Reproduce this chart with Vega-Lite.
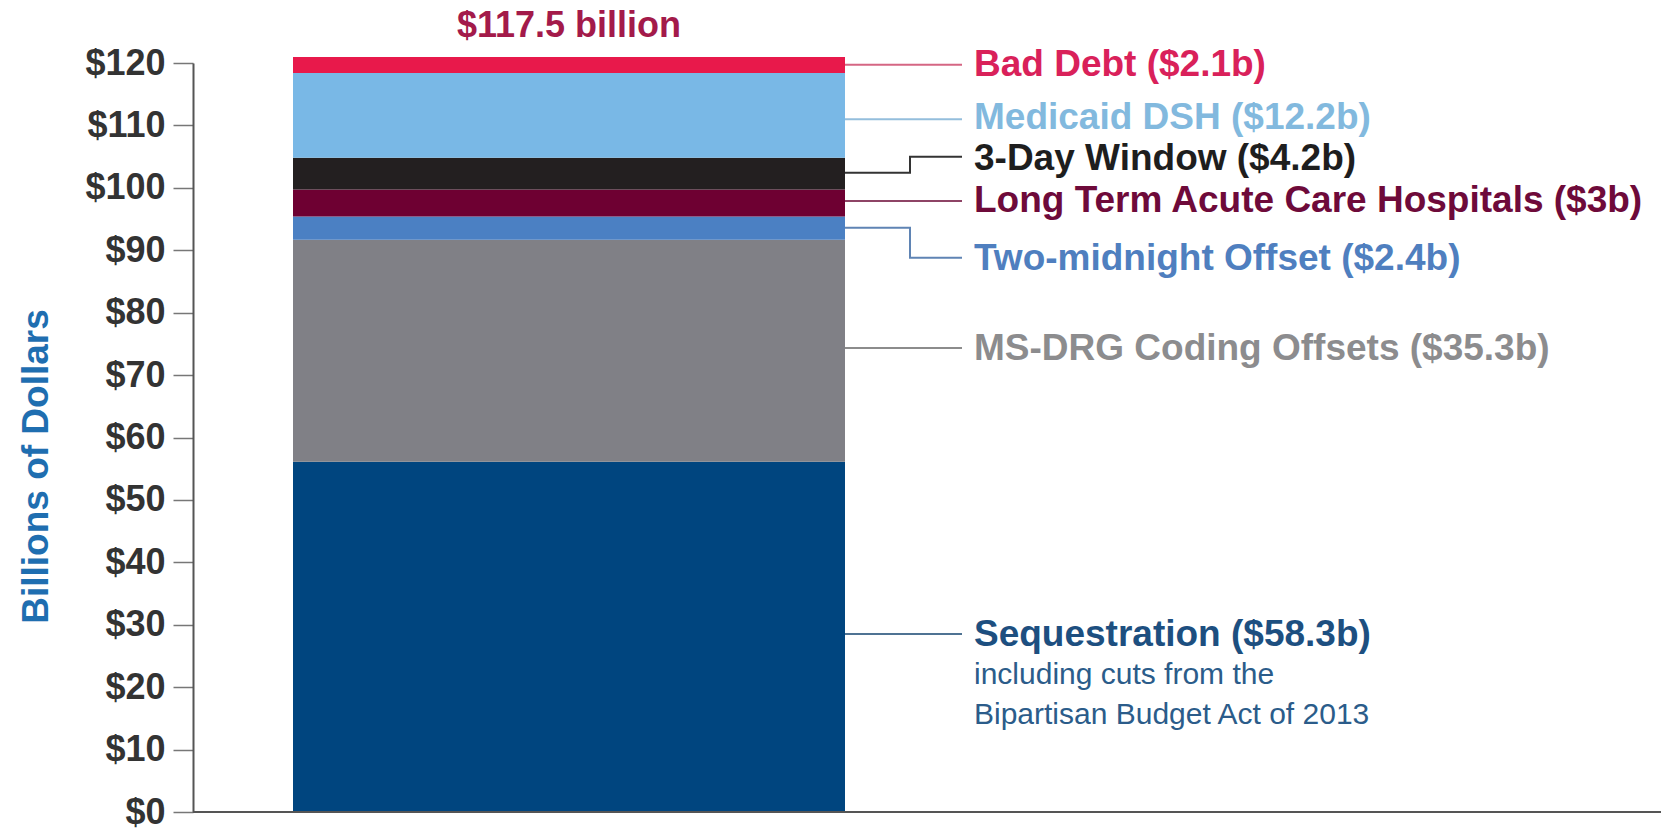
{
  "$schema": "https://vega.github.io/schema/vega-lite/v6.json",
  "autosize": "none",
  "width": 1468,
  "height": 749,
  "padding": {"left": 193, "top": 63, "right": 0, "bottom": 17},
  "background": "white",
  "config": {
    "view": {"stroke": null},
    "axisY": {
      "grid": false,
      "tickSize": 20,
      "tickColor": "#777777",
      "tickWidth": 1.5,
      "domainColor": "#555555",
      "domainWidth": 2,
      "labelFont": "Liberation Sans",
      "labelFontSize": 36,
      "labelFontWeight": "bold",
      "labelColor": "#333333",
      "labelPadding": 8,
      "titleFont": "Liberation Sans",
      "titleFontSize": 37,
      "titleFontWeight": "bold",
      "titleColor": "#1f6eb0",
      "titleAngle": -90,
      "titleX": -157,
      "titleY": 403,
      "titleAlign": "center",
      "titleBaseline": "middle"
    }
  },
  "resolve": {"scale": {"color": "independent"}},
  "layer": [
    {
      "data": {"values": [
        {"category": "Sequestration", "value": 56.1, "order": 1},
        {"category": "MS-DRG Coding Offsets", "value": 35.6, "order": 2},
        {"category": "Two-midnight Offset", "value": 3.7, "order": 3},
        {"category": "Long Term Acute Care Hospitals", "value": 4.35, "order": 4},
        {"category": "3-Day Window", "value": 5.05, "order": 5},
        {"category": "Medicaid DSH", "value": 13.6, "order": 6},
        {"category": "Bad Debt", "value": 2.55, "order": 7}
      ]},
      "transform": [
        {"stack": "value", "groupby": [], "sort": [{"field": "order", "order": "ascending"}], "as": ["lo", "hi"]}
      ],
      "mark": {"type": "bar"},
      "encoding": {
        "x": {"datum": 0, "type": "quantitative", "scale": {"domain": [-1, 0, 1, 2, 3, 4, 5], "range": [0, 100, 652, 717, 769, 781, 1468]}, "axis": null},
        "x2": {"datum": 1},
        "y": {
          "field": "lo", "type": "quantitative",
          "scale": {"domain": [0, 120], "nice": false},
          "title": "Billions of Dollars",
          "axis": {
            "values": [0, 10, 20, 30, 40, 50, 60, 70, 80, 90, 100, 110, 120],
            "labelExpr": "'$' + datum.value"
          }
        },
        "y2": {"field": "hi"},
        "color": {
          "field": "category", "type": "nominal", "legend": null,
          "scale": {
            "domain": ["Sequestration", "MS-DRG Coding Offsets", "Two-midnight Offset", "Long Term Acute Care Hospitals", "3-Day Window", "Medicaid DSH", "Bad Debt"],
            "range": ["#00457f", "#808086", "#4b80c3", "#6e0032", "#231f20", "#79b8e6", "#e8194b"]
          }
        }
      }
    },
    {
      "data": {"values": [{"base": 0}]},
      "mark": {"type": "rule", "color": "#555555", "strokeWidth": 2},
      "encoding": {
        "x": {"datum": -1, "type": "quantitative"},
        "x2": {"datum": 5},
        "y": {"field": "base", "type": "quantitative", "title": "Billions of Dollars"}
      }
    },
    {
      "data": {"values": [
        {"category": "Bad Debt", "leg": 1, "value": 119.7},
        {"category": "Bad Debt", "leg": 3, "value": 119.7},
        {"category": "Medicaid DSH", "leg": 1, "value": 111.0},
        {"category": "Medicaid DSH", "leg": 3, "value": 111.0},
        {"category": "3-Day Window", "leg": 1, "value": 102.4},
        {"category": "3-Day Window", "leg": 2, "value": 102.4},
        {"category": "3-Day Window", "leg": 2, "value": 105.0},
        {"category": "3-Day Window", "leg": 3, "value": 105.0},
        {"category": "Long Term Acute Care Hospitals", "leg": 1, "value": 97.9},
        {"category": "Long Term Acute Care Hospitals", "leg": 3, "value": 97.9},
        {"category": "Two-midnight Offset", "leg": 1, "value": 93.6},
        {"category": "Two-midnight Offset", "leg": 2, "value": 93.6},
        {"category": "Two-midnight Offset", "leg": 2, "value": 88.8},
        {"category": "Two-midnight Offset", "leg": 3, "value": 88.8},
        {"category": "MS-DRG Coding Offsets", "leg": 1, "value": 74.35},
        {"category": "MS-DRG Coding Offsets", "leg": 3, "value": 74.35},
        {"category": "Sequestration", "leg": 1, "value": 28.5},
        {"category": "Sequestration", "leg": 3, "value": 28.5}
      ]},
      "transform": [{"window": [{"op": "row_number", "as": "seq"}]}],
      "mark": {"type": "line", "strokeWidth": 2},
      "encoding": {
        "x": {"field": "leg", "type": "quantitative"},
        "y": {"field": "value", "type": "quantitative", "title": "Billions of Dollars"},
        "order": {"field": "seq", "type": "quantitative"},
        "color": {
          "field": "category", "type": "nominal", "legend": null,
          "scale": {
            "domain": ["Sequestration", "MS-DRG Coding Offsets", "Two-midnight Offset", "Long Term Acute Care Hospitals", "3-Day Window", "Medicaid DSH", "Bad Debt"],
            "range": ["#4f7393", "#8c8c8c", "#5f84b4", "#8e4466", "#333333", "#94bedc", "#d56683"]
          }
        }
      }
    },
    {
      "data": {"values": [
        {"category": "Bad Debt", "label": "Bad Debt ($2.1b)", "value": 119.7},
        {"category": "Medicaid DSH", "label": "Medicaid DSH ($12.2b)", "value": 111.2},
        {"category": "3-Day Window", "label": "3-Day Window ($4.2b)", "value": 104.6},
        {"category": "Long Term Acute Care Hospitals", "label": "Long Term Acute Care Hospitals ($3b)", "value": 97.9},
        {"category": "Two-midnight Offset", "label": "Two-midnight Offset ($2.4b)", "value": 88.6},
        {"category": "MS-DRG Coding Offsets", "label": "MS-DRG Coding Offsets ($35.3b)", "value": 74.2},
        {"category": "Sequestration", "label": "Sequestration ($58.3b)", "value": 28.3}
      ]},
      "mark": {"type": "text", "align": "left", "baseline": "middle", "font": "Liberation Sans", "fontSize": 37, "fontWeight": "bold"},
      "encoding": {
        "x": {"datum": 4, "type": "quantitative"},
        "y": {"field": "value", "type": "quantitative", "title": "Billions of Dollars"},
        "text": {"field": "label"},
        "color": {
          "field": "category", "type": "nominal", "legend": null,
          "scale": {
            "domain": ["Sequestration", "MS-DRG Coding Offsets", "Two-midnight Offset", "Long Term Acute Care Hospitals", "3-Day Window", "Medicaid DSH", "Bad Debt"],
            "range": ["#1d4f80", "#8c8c8e", "#4f7fbf", "#6e0a3a", "#1e1e1e", "#82b9de", "#d9215a"]
          }
        }
      }
    },
    {
      "data": {"values": [
        {"label": "including cuts from the", "value": 21.95},
        {"label": "Bipartisan Budget Act of 2013", "value": 15.55}
      ]},
      "mark": {"type": "text", "align": "left", "baseline": "middle", "font": "Liberation Sans", "fontSize": 30, "color": "#2b5c8a"},
      "encoding": {
        "x": {"datum": 4, "type": "quantitative"},
        "y": {"field": "value", "type": "quantitative", "title": "Billions of Dollars"},
        "text": {"field": "label"}
      }
    },
    {
      "data": {"values": [{"label": "$117.5 billion", "value": 125.85}]},
      "mark": {"type": "text", "align": "center", "baseline": "middle", "font": "Liberation Sans", "fontSize": 36, "fontWeight": "bold", "color": "#a31a4a"},
      "encoding": {
        "x": {"datum": 0.5, "type": "quantitative"},
        "y": {"field": "value", "type": "quantitative", "title": "Billions of Dollars"},
        "text": {"field": "label"}
      }
    }
  ]
}
